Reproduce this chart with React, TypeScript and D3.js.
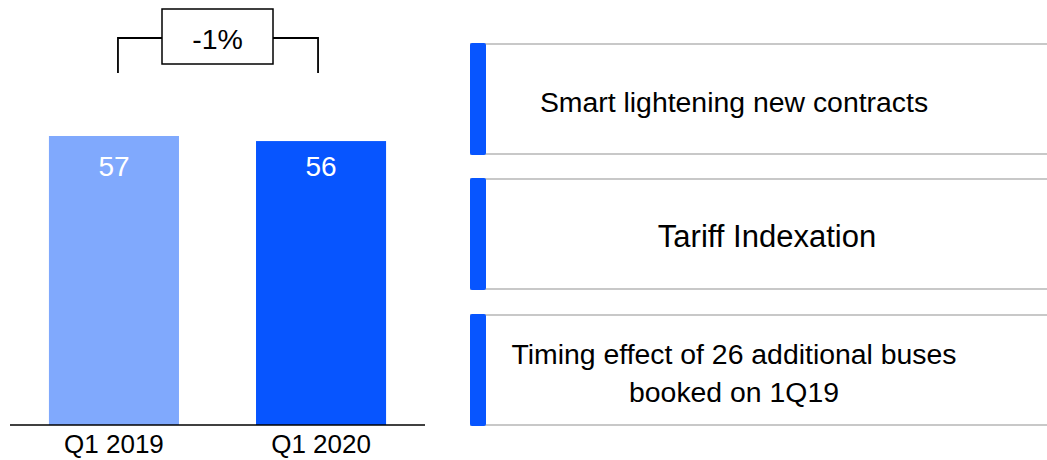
import React from "react";
import * as d3 from "d3";

// Quarterly volumes
const categories: string[] = ["Q1 2019", "Q1 2020"];
const values: number[] = [57, 56];
const changeLabel = "-1%";

// Drivers listed beside the bars
const notes: string[][] = [
  ["Smart lightening new contracts"],
  ["Tariff Indexation"],
  ["Timing effect of 26 additional buses", "booked on 1Q19"],
];

const W = 1047;
const H = 460;
const FONT = "'Liberation Sans', Arial, Helvetica, sans-serif";
const BAR_COLORS = ["#80a9fd", "#0755ff"];
const ACCENT = "#0755ff";
const RULE = "#c8c8c8";

// Layout of the chart area
const AXIS_Y = 425;
const PLOT_LEFT = 10;
const PLOT_RIGHT = 425;
const TOP_Y = 136;

// Layout of the notes column
const NOTE_LEFT = 470;
const NOTE_TOPS = [44, 179, 315];
const NOTE_HEIGHT = 110;
const NOTE_TEXT_X = [734, 767, 734];
const NOTE_FONT = [28.4, 31, 28.4];

export default function App() {
  const x = d3
    .scaleBand<string>()
    .domain(categories)
    .range([PLOT_LEFT, PLOT_RIGHT])
    .paddingInner(0.372)
    .paddingOuter(0.188);
  const y = d3.scaleLinear().domain([0, d3.max(values) as number]).range([AXIS_Y, TOP_Y]);
  const bw = x.bandwidth();

  const c1 = (x(categories[0]) as number) + bw / 2;
  const c2 = (x(categories[1]) as number) + bw / 2;
  const bl = c1 + 4;
  const br = c2 - 3;
  const armY = 38;
  const legBottom = 73;
  const boxL = 162;
  const boxR = 273;
  const boxT = 9;
  const boxB = 64;

  return (
    <svg
      width={W}
      height={H}
      style={{ position: "fixed", left: 0, top: 0, background: "#fff" }}
      fontFamily={FONT}
    >
      {/* bars */}
      {categories.map((c, i) => (
        <g key={c}>
          <rect
            x={x(c)}
            y={y(values[i])}
            width={bw}
            height={AXIS_Y - y(values[i])}
            fill={BAR_COLORS[i]}
          />
          <text
            x={(x(c) as number) + bw / 2}
            y={176}
            textAnchor="middle"
            fontSize={28}
            fill="#fff"
          >
            {values[i]}
          </text>
          <text
            x={(x(c) as number) + bw / 2}
            y={453}
            textAnchor="middle"
            fontSize={26}
            fill="#000"
          >
            {c}
          </text>
        </g>
      ))}

      {/* baseline */}
      <line x1={PLOT_LEFT} x2={PLOT_RIGHT} y1={AXIS_Y} y2={AXIS_Y} stroke="#000" strokeWidth={1.5} />

      {/* change bracket */}
      <path
        d={`M${bl},${legBottom}V${armY}H${boxL}M${boxR},${armY}H${br}V${legBottom}`}
        fill="none"
        stroke="#000"
        strokeWidth={1.8}
      />
      <rect
        x={boxL}
        y={boxT}
        width={boxR - boxL}
        height={boxB - boxT}
        fill="#fff"
        stroke="#000"
        strokeWidth={1.5}
      />
      <text x={(boxL + boxR) / 2} y={48.5} textAnchor="middle" fontSize={28.5} fill="#000">
        {changeLabel}
      </text>

      {/* notes */}
      {notes.map((lines, i) => {
        const top = NOTE_TOPS[i];
        const mid = top + NOTE_HEIGHT / 2;
        const lh = 38;
        const first = mid + 13 - ((lines.length - 1) * lh) / 2;
        return (
          <g key={i}>
            <line x1={NOTE_LEFT} x2={W} y1={top} y2={top} stroke={RULE} strokeWidth={2} />
            <line
              x1={NOTE_LEFT}
              x2={W}
              y1={top + NOTE_HEIGHT}
              y2={top + NOTE_HEIGHT}
              stroke={RULE}
              strokeWidth={2}
            />
            <rect
              x={NOTE_LEFT}
              y={top - 1}
              width={16}
              height={NOTE_HEIGHT + 2}
              rx={2}
              fill={ACCENT}
            />
            {lines.map((t, j) => (
              <text
                key={j}
                x={NOTE_TEXT_X[i]}
                y={first + j * lh}
                textAnchor="middle"
                fontSize={NOTE_FONT[i]}
                fill="#000"
              >
                {t}
              </text>
            ))}
          </g>
        );
      })}
    </svg>
  );
}
